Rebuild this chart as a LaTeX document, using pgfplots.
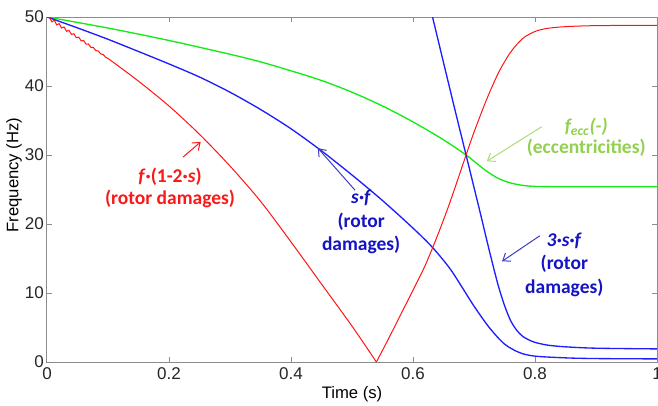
\documentclass[border=0pt]{standalone}
\usepackage{fontspec}
\setmainfont{Liberation Sans}
\newfontfamily\annot{Carlito}
\usepackage{pgfplots}
\pgfplotsset{compat=1.18}
\usetikzlibrary{arrows.meta}
\definecolor{axgray}{RGB}{140,140,140}
\definecolor{cred}{RGB}{255,20,20}
\definecolor{cblue}{RGB}{30,30,255}
\definecolor{cgreen}{RGB}{20,235,20}
\definecolor{tblue}{RGB}{20,20,195}
\definecolor{tgreen}{RGB}{146,208,80}
\definecolor{agreen}{RGB}{170,220,120}
\definecolor{tred}{RGB}{250,25,25}
\definecolor{ablue}{RGB}{60,60,200}
\begin{document}
\begin{tikzpicture}
\begin{axis}[
 scale only axis, width=366pt, height=207pt,
 xmin=0, xmax=1, ymin=0, ymax=50,
 xtick={0,0.2,0.4,0.6,0.8,1}, ytick={0,10,20,30,40,50},
 xticklabels={0,0.2,0.4,0.6,0.8,1},
 tick align=inside,
 axis line style={axgray, line width=0.6pt},
 major tick style={axgray, line width=0.6pt},
 major tick length=3pt,
 tick label style={font=\fontsize{10.2}{12}\selectfont, text=black!85},
 yticklabel style={xshift=1.6pt},
 /pgf/number format/assume math mode=true,
 xlabel={Time (s)}, ylabel={Frequency (Hz)},
 label style={font=\fontsize{9.4}{11}\selectfont, text=black!85},
 every axis x label/.style={at={(axis description cs:0.5,-0.107)}, anchor=base},
 every axis y label/.style={at={(axis description cs:-0.047,0.542)}, rotate=90, anchor=base},
]
\addplot[cgreen, line width=0.8pt, smooth, tension=0.5] coordinates {
(0,50) (0.1,48.4) (0.2,46.6) (0.3,44.6) (0.35,43.5) (0.4,42.2) (0.45,40.8) (0.5,39.1)
(0.55,37.1) (0.6,34.8) (0.65,32.2) (0.687,30.0) (0.7,29.1) (0.72,27.7) (0.74,26.6)
(0.76,25.95) (0.78,25.6) (0.8,25.45) (0.85,25.4) (1,25.4)};
\addplot[cblue, line width=0.8pt, smooth, tension=0.5] coordinates {
(0,50) (0.05,48.42) (0.1,46.77) (0.15,45.0) (0.2,43.2) (0.25,41.3) (0.3,39.1) (0.35,36.6)
(0.4,33.8) (0.45,30.6) (0.5,27.1) (0.55,23.4) (0.6,19.4) (0.632,16.6) (0.66,13.6)
(0.68,10.9) (0.7,8.1) (0.725,5.0) (0.75,2.6) (0.775,1.35) (0.8,0.85) (0.85,0.6) (0.9,0.5) (1,0.45)};
\addplot[cblue, line width=0.8pt, smooth, tension=0.5] coordinates {
(0.62,54.4) (0.632,50.0) (0.65,43.4) (0.67,36.1) (0.687,30.0) (0.7,25.3) (0.71,21.7)
(0.72,18.0) (0.73,14.4) (0.74,11.0) (0.75,8.2) (0.76,6.0) (0.77,4.6) (0.78,3.7) (0.79,3.2)
(0.8,2.85) (0.82,2.45) (0.85,2.2) (0.9,2.0) (1,1.9)};
\addplot[cred, line width=0.6pt] coordinates {
(0,50) (0.004,49.95) (0.008,49.30) (0.012,49.52) (0.016,48.86) (0.020,49.04) (0.024,48.40)
(0.028,48.56) (0.032,47.93) (0.036,48.07) (0.040,47.47) (0.044,47.58) (0.048,47.00)
(0.052,47.09) (0.056,46.54) (0.060,46.59) (0.064,46.07) (0.068,46.09) (0.072,45.60)
(0.076,45.59) (0.080,45.13) (0.084,45.08) (0.088,44.66) (0.092,44.57) (0.096,44.19) (0.1,44.0)};
\addplot[cred, line width=0.6pt, smooth, tension=0.5] coordinates {
(0.1,44.0) (0.15,40.7) (0.2,37.1) (0.25,33.0) (0.3,28.4) (0.35,23.3)
(0.4,17.4) (0.45,11.3) (0.5,5.2) (0.54,0)};
\addplot[cred, line width=0.6pt, smooth, tension=0.5] coordinates {
(0.54,0) (0.56,3.4) (0.58,6.9) (0.6,10.4) (0.62,14.0) (0.64,18.3) (0.66,23.0)
(0.687,30.0) (0.7,33.3) (0.72,37.9) (0.74,41.9) (0.76,44.9) (0.78,46.9) (0.8,47.9)
(0.82,48.35) (0.85,48.6) (0.9,48.75) (1,48.8)};
% annotations
\node[text=tred, align=center, font=\annot\bfseries\fontsize{11.7}{13.5}\selectfont] at (axis cs:0.2016,25.2) {\textit{f}·(1-2·\textit{s})\\(rotor damages)};
\draw[tred, line width=0.6pt, -{Straight Barb[length=4pt,width=6pt]}] (axis cs:0.223,29.7) -- (axis cs:0.252,31.9);
\node[text=tblue, align=center, font=\annot\bfseries\fontsize{11.7}{14}\selectfont] at (axis cs:0.515,20.3) {\textit{s·f}\\(rotor\\damages)};
\draw[ablue, line width=0.6pt, -{Straight Barb[length=4pt,width=6pt]}] (axis cs:0.505,24.9) -- (axis cs:0.444,31.0);
\node[text=tgreen, align=center, font=\annot\bfseries\fontsize{11.7}{12.5}\selectfont] at (axis cs:0.884,32.6) {\textit{f\textsubscript{ecc}(-)}\\(eccentricities)};
\draw[agreen, line width=0.6pt, -{Straight Barb[length=4pt,width=6pt]}] (axis cs:0.811,34.1) -- (axis cs:0.721,29.1);
\node[text=tblue, align=center, font=\annot\bfseries\fontsize{11.7}{14}\selectfont] at (axis cs:0.848,14.1) {\textit{3·s·f}\\(rotor\\damages)};
\draw[ablue, line width=0.6pt, -{Straight Barb[length=4pt,width=6pt]}] (axis cs:0.808,18.3) -- (axis cs:0.746,14.6);
\end{axis}
\pgfresetboundingbox
\useasboundingbox ([xshift=-28.2pt,yshift=-25.8pt]current axis.south west) rectangle ([xshift=0.6pt,yshift=10.2pt]current axis.north east);
\end{tikzpicture}
\end{document}
